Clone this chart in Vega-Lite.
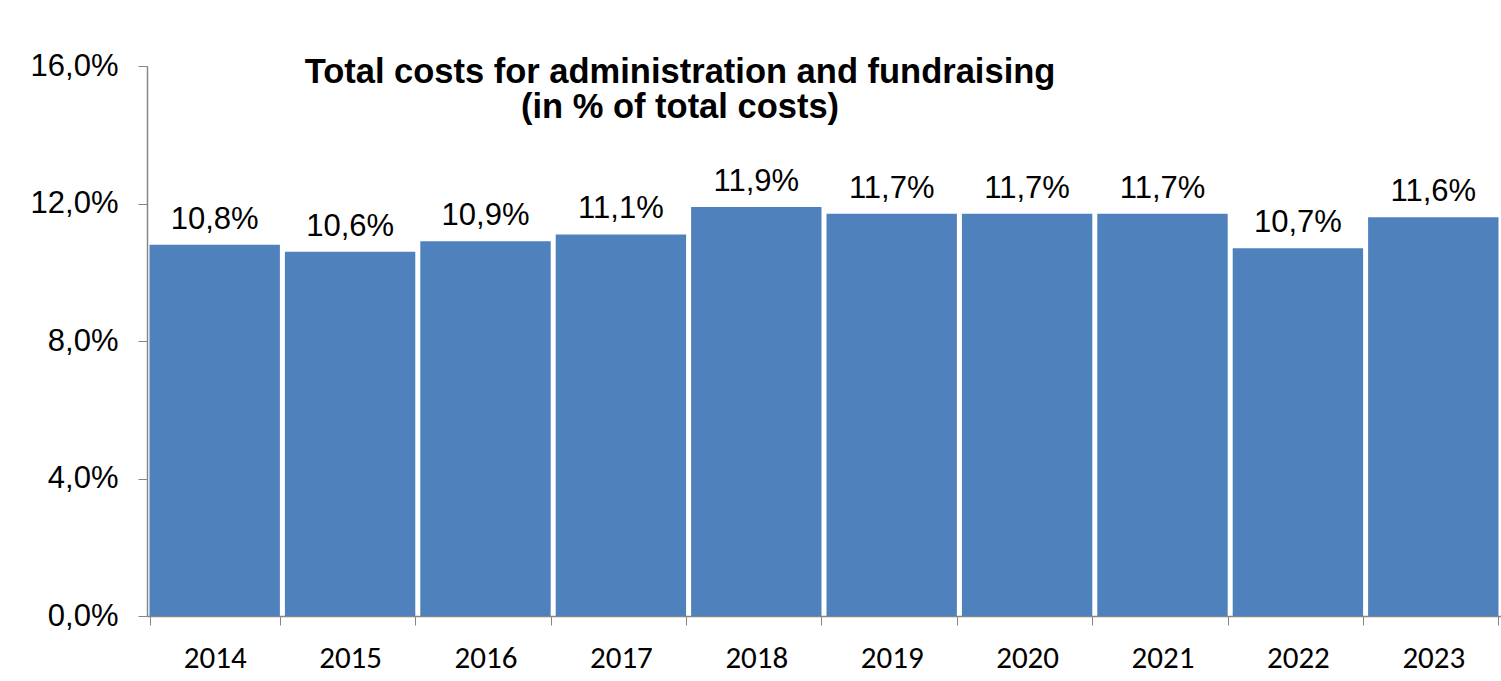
{
  "$schema": "https://vega.github.io/schema/vega-lite/v6.json",
  "width": 1354,
  "height": 550,
  "autosize": {"type": "none"},
  "padding": {"left": 147, "top": 66, "right": 0, "bottom": 65},
  "background": "white",
  "config": {
    "locale": {"number": {"decimal": ",", "thousands": ".", "grouping": [3], "currency": ["", " €"]}},
    "view": {"stroke": null},
    "font": "Liberation Sans"
  },
  "title": {
    "text": ["Total costs for administration and fundraising", "(in % of total costs)"],
    "fontSize": 34.5,
    "fontWeight": "bold",
    "font": "Liberation Sans",
    "color": "black",
    "anchor": "middle",
    "frame": "group",
    "dx": -144,
    "baseline": "alphabetic",
    "offset": -102,
    "lineHeight": 35
  },
  "data": {
    "values": [
      {"year": "2014", "share": 0.108},
      {"year": "2015", "share": 0.106},
      {"year": "2016", "share": 0.109},
      {"year": "2017", "share": 0.111},
      {"year": "2018", "share": 0.119},
      {"year": "2019", "share": 0.117},
      {"year": "2020", "share": 0.117},
      {"year": "2021", "share": 0.117},
      {"year": "2022", "share": 0.107},
      {"year": "2023", "share": 0.116}
    ]
  },
  "encoding": {
    "x": {
      "field": "year",
      "type": "ordinal",
      "scale": {"paddingInner": 0.037, "paddingOuter": 0.0185},
      "axis": {
        "title": null,
        "labelAngle": 0,
        "tickBand": "extent",
        "tickSize": 9,
        "tickColor": "#868686",
        "domainColor": "#868686",
        "domainWidth": 1.5,
        "labelFont": "Carlito, Open Sans",
        "labelFontSize": 31,
        "labelColor": "black",
        "labelBaseline": "alphabetic",
        "labelPadding": 42
      }
    },
    "y": {
      "field": "share",
      "type": "quantitative",
      "scale": {"domain": [0, 0.16]},
      "axis": {
        "title": null,
        "values": [0, 0.04, 0.08, 0.12, 0.16],
        "format": ".1%",
        "grid": false,
        "tickSize": 9,
        "tickColor": "#868686",
        "domainColor": "#868686",
        "domainWidth": 1.5,
        "labelFont": "Liberation Sans",
        "labelFontSize": 31,
        "labelColor": "black",
        "labelPadding": 20
      }
    }
  },
  "layer": [
    {"mark": {"type": "bar", "color": "#4F81BD"}},
    {
      "mark": {"type": "text", "baseline": "alphabetic", "dy": -16, "fontSize": 31, "font": "Liberation Sans", "color": "black"},
      "encoding": {"text": {"field": "share", "type": "quantitative", "format": ".1%"}}
    }
  ]
}
